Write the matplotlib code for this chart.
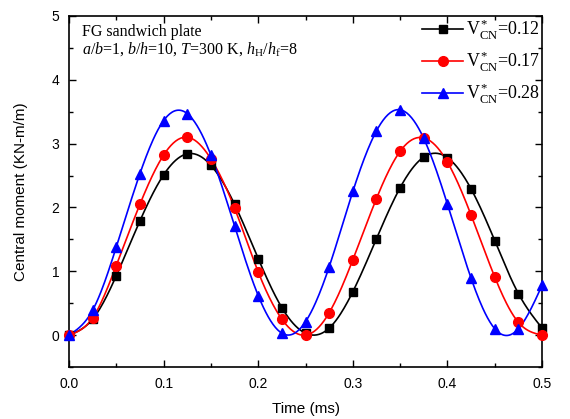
import matplotlib.pyplot as plt
import numpy as np

plt.rcParams['font.family'] = ['Liberation Sans', 'DejaVu Sans']
plt.rcParams['mathtext.fontset'] = 'custom'
plt.rcParams['mathtext.rm'] = 'Liberation Serif'
plt.rcParams['mathtext.it'] = 'Liberation Serif:italic'

# time points of the markers (ms)
t = np.arange(21) * 0.025

m_012 = [0.00, 0.25, 0.93, 1.79, 2.51, 2.84, 2.66, 2.05, 1.20, 0.43, 0.03,
         0.11, 0.68, 1.51, 2.31, 2.79, 2.78, 2.29, 1.48, 0.65, 0.11]
m_017 = [0.00, 0.27, 1.09, 2.05, 2.82, 3.10, 2.76, 1.99, 0.99, 0.25, 0.00,
         0.35, 1.18, 2.14, 2.88, 3.09, 2.71, 1.88, 0.91, 0.20, 0.00]
m_028 = [0.00, 0.39, 1.38, 2.53, 3.36, 3.47, 2.82, 1.71, 0.62, 0.03, 0.21,
         1.07, 2.25, 3.20, 3.53, 3.08, 2.05, 0.89, 0.10, 0.10, 0.78]

labels = [r'V$^*_{\mathrm{CN}}$=0.12', r'V$^*_{\mathrm{CN}}$=0.17', r'V$^*_{\mathrm{CN}}$=0.28']
colors = ['black', 'red', 'blue']
markers = ['s', 'o', '^']
msizes = [6, 7, 7.5]


def spline(x, y, n=400):
    # natural cubic spline, only used for drawing the smooth connecting line
    x = np.asarray(x, float)
    y = np.asarray(y, float)
    k = len(x)
    h = np.diff(x)
    A = np.zeros((k, k))
    r = np.zeros(k)
    A[0, 0] = A[-1, -1] = 1
    for i in range(1, k - 1):
        A[i, i - 1] = h[i - 1]
        A[i, i] = 2 * (h[i - 1] + h[i])
        A[i, i + 1] = h[i]
        r[i] = 6 * ((y[i + 1] - y[i]) / h[i] - (y[i] - y[i - 1]) / h[i - 1])
    M = np.linalg.solve(A, r)
    xs = np.linspace(x[0], x[-1], n)
    j = np.clip(np.searchsorted(x, xs) - 1, 0, k - 2)
    dx1 = x[j + 1] - xs
    dx0 = xs - x[j]
    hj = h[j]
    ys = (M[j] * dx1**3 + M[j + 1] * dx0**3) / (6 * hj) \
        + (y[j] / hj - M[j] * hj / 6) * dx1 + (y[j + 1] / hj - M[j + 1] * hj / 6) * dx0
    return xs, ys


fig = plt.figure(figsize=(5.7, 4.19), dpi=100)
ax = fig.add_axes([0.121, 0.124, 0.830, 0.838])

for y, c, mk, ms, lab in zip([m_012, m_017, m_028], colors, markers, msizes, labels):
    xs, ys = spline(t, y)
    ax.plot(xs, ys, color=c, lw=1.2)
    ax.plot(t, y, color=c, marker=mk, ms=ms, ls='none', clip_on=False, zorder=3)
    ax.plot([], [], color=c, marker=mk, ms=ms, lw=1.2, label=lab)

ax.set_xlim(0, 0.5)
ax.set_ylim(-0.5, 5)
ax.set_xticks(np.arange(0, 0.51, 0.1))
ax.set_xticks(np.arange(0, 0.51, 0.05), minor=True)
ax.set_yticks(range(0, 6))
ax.set_yticks(np.arange(-0.5, 5.01, 0.5), minor=True)
ax.xaxis.set_major_formatter(plt.FormatStrFormatter('%.1f'))
ax.tick_params(which='both', direction='in', top=True, right=True, labelsize=10)
ax.tick_params(which='major', length=5, width=1, pad=7)
ax.tick_params(which='minor', length=3, width=1)
for s in ax.spines.values():
    s.set_linewidth(1.2)

ax.set_xlabel('Time (ms)', fontsize=11, labelpad=8)
ax.set_ylabel('Central moment (KN-m/m)', fontsize=11, labelpad=17)

ax.text(0.027, 0.943, 'FG sandwich plate', transform=ax.transAxes,
        family='Liberation Serif', fontsize=11.5, va='baseline')
ax.text(0.027, 0.892, r'$a$/$b$=1, $b$/$h$=10, $T$=300 K, $h_{\mathrm{H}}$/$h_{\mathrm{f}}$=8',
        transform=ax.transAxes, family='Liberation Serif', fontsize=11.5, va='baseline')

ax.legend(loc='upper right', frameon=False, handlelength=2.3,
          handletextpad=0.15, labelspacing=0.4, borderaxespad=0.0, borderpad=0.1,
          prop={'family': 'Liberation Serif', 'size': 13})

plt.savefig('out.png')
